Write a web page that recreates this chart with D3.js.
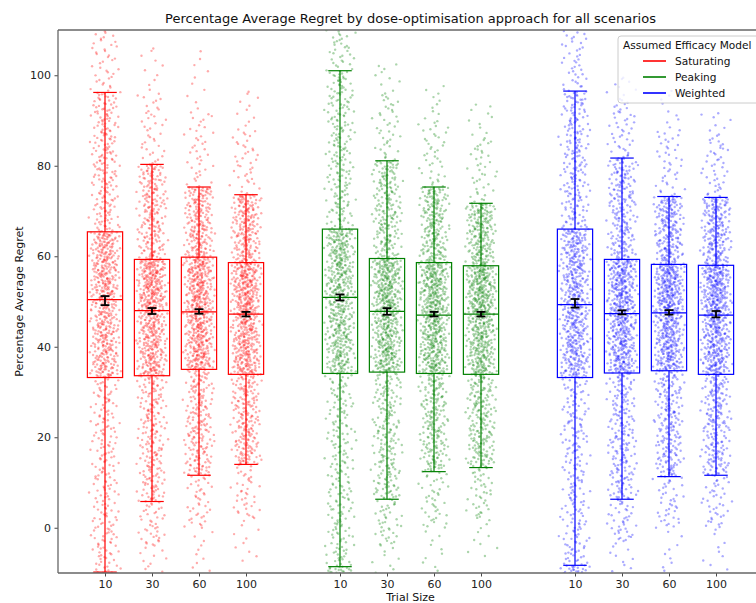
<!DOCTYPE html>
<html>
<head>
<meta charset="utf-8">
<script src="https://cdn.jsdelivr.net/npm/d3@7"></script>
<style>
  body { margin: 0; background: #fff; }
  text { font-family: "DejaVu Sans", sans-serif; }
</style>
</head>
<body>
<svg id="chart" width="756" height="603"></svg>
<script>
// ---------------- data ----------------
const models = ["Saturating", "Peaking", "Weighted"];
const modelColors = ["#ff0000", "#008000", "#0000ff"];
const trialSizes = ["10", "30", "60", "100"];
const yTicks = [0, 20, 40, 60, 80, 100];

// per box, ordered Saturating 10,30,60,100, Peaking 10..100, Weighted 10..100
const whiskerLow  = [-9.8, 5.8, 11.6, 14.0,   -8.6, 6.3, 12.4, 13.3,   -8.3, 6.3, 11.3, 11.6];
const q1Vals      = [33.2, 33.6, 35.0, 33.9,  34.1, 34.4, 34.1, 33.9,  33.2, 34.2, 34.7, 33.9];
const medianVals  = [50.4, 48.0, 47.7, 47.2,  50.9, 47.8, 47.0, 47.2,  49.3, 47.3, 47.5, 47.0];
const q3Vals      = [65.4, 59.3, 59.8, 58.6,  66.0, 59.5, 58.6, 57.9,  66.0, 59.3, 58.2, 58.0];
const whiskerHigh = [96.2, 80.3, 75.3, 73.6,  101.0, 81.1, 75.3, 71.7, 96.5, 81.7, 73.2, 73.0];
const meanVals    = [50.2, 47.9, 47.8, 47.2,  50.9, 47.8, 47.2, 47.2,  49.6, 47.6, 47.6, 47.2];
const meanCI      = [1.0, 0.66, 0.5, 0.5,     0.66, 0.73, 0.5, 0.5,    0.95, 0.45, 0.5, 0.7];
// visible extent of the scattered results beyond the whiskers
const tailMin     = [-20, -10, -10, -8,   -20, -12, -10, -7,   -20, -10, -10, -10];
const tailLow     = [-12, -4, 0, 2,       -12, -4, 0, 2,       -12, -3, 0, 0];
const tailHigh    = [110, 96, 92, 88,     112, 96, 90, 86,     110, 94, 88, 86];
const tailMax     = [125, 107, 106, 97,   125, 103, 98, 94,    125, 100, 97, 92];

// ---------------- layout ----------------
const svg = d3.select("#chart");
const mLeft = 58, mRight = 763, mTop = 30, mBottom = 573;
const x = d3.scaleLinear().domain([0, 15]).range([mLeft, mRight]);
const y = d3.scaleLinear().domain([-10, 110]).range([mBottom, mTop]);

const positions = [];
models.forEach((m, gi) => trialSizes.forEach((t, ti) => positions.push(1 + gi * 5 + ti)));
const boxColor = i => modelColors[Math.floor(i / 4)];

svg.append("defs").append("clipPath").attr("id", "plotclip")
  .append("rect").attr("x", mLeft).attr("y", mTop).attr("width", mRight - mLeft).attr("height", mBottom - mTop);

const plot = svg.append("g").attr("clip-path", "url(#plotclip)");

// ---- scattered points: rendered by walking each box's read quantile profile ----
// (a Halton sequence spreads the levels and horizontal offsets evenly)
function radical(k, base) {
  let f = 1, r = 0;
  while (k > 0) { f /= base; r += f * (k % base); k = Math.floor(k / base); }
  return r;
}
const N = 1000;
const qLevels = [0, 0.01, 0.05, 0.25, 0.5, 0.75, 0.95, 0.99, 1];
positions.forEach((p, i) => {
  const qv = [tailMin[i], tailLow[i], whiskerLow[i], q1Vals[i], medianVals[i], q3Vals[i], whiskerHigh[i], tailHigh[i], tailMax[i]];
  const qScale = d3.scaleLinear().domain(qLevels).range(qv);
  const pts = d3.range(N).map(k => {
    const kk = k + 1 + i * 1013;
    const u = radical(kk, 2);
    const a = radical(kk, 3), b = radical(kk, 5);
    return { v: qScale(Math.min(0.9995, Math.max(0.0005, u))), dx: ((a + b) / 2 - 0.5) * 0.72 };
  });
  plot.append("g").selectAll("circle").data(pts).join("circle")
    .attr("cx", d => x(p + d.dx))
    .attr("cy", d => y(d.v))
    .attr("r", 1.2)
    .attr("fill", boxColor(i))
    .attr("fill-opacity", 0.33);
});

// ---- boxes ----
const boxW = 0.75, capW = 0.5;
positions.forEach((p, i) => {
  const c = boxColor(i);
  const g = plot.append("g").attr("stroke", c).attr("stroke-width", 1.2).attr("fill", "none");
  g.append("rect")
    .attr("x", x(p - boxW / 2)).attr("width", x(p + boxW / 2) - x(p - boxW / 2))
    .attr("y", y(q3Vals[i])).attr("height", y(q1Vals[i]) - y(q3Vals[i]));
  g.append("line").attr("x1", x(p - boxW / 2)).attr("x2", x(p + boxW / 2))
    .attr("y1", y(medianVals[i])).attr("y2", y(medianVals[i]));
  g.append("line").attr("x1", x(p)).attr("x2", x(p)).attr("y1", y(q3Vals[i])).attr("y2", y(whiskerHigh[i]));
  g.append("line").attr("x1", x(p)).attr("x2", x(p)).attr("y1", y(q1Vals[i])).attr("y2", y(whiskerLow[i]));
  g.append("line").attr("x1", x(p - capW / 2)).attr("x2", x(p + capW / 2)).attr("y1", y(whiskerHigh[i])).attr("y2", y(whiskerHigh[i]));
  g.append("line").attr("x1", x(p - capW / 2)).attr("x2", x(p + capW / 2)).attr("y1", y(whiskerLow[i])).attr("y2", y(whiskerLow[i]));
});

// ---- mean +/- CI error bars ----
const ebCap = 0.19;
positions.forEach((p, i) => {
  const g = plot.append("g").attr("stroke", "#000").attr("stroke-width", 1.8);
  const lo = meanVals[i] - meanCI[i], hi = meanVals[i] + meanCI[i];
  g.append("line").attr("x1", x(p)).attr("x2", x(p)).attr("y1", y(lo)).attr("y2", y(hi));
  g.append("line").attr("x1", x(p - ebCap / 2)).attr("x2", x(p + ebCap / 2)).attr("y1", y(lo)).attr("y2", y(lo));
  g.append("line").attr("x1", x(p - ebCap / 2)).attr("x2", x(p + ebCap / 2)).attr("y1", y(hi)).attr("y2", y(hi));
});

// ---------------- axes ----------------
const yAxis = d3.axisLeft(y).tickValues(yTicks).tickSize(3.5).tickPadding(3.5);
const yg = svg.append("g").attr("transform", `translate(${mLeft},0)`).call(yAxis);
const xAxis = d3.axisBottom(x).tickValues(positions).tickFormat((d, i) => trialSizes[i % 4]).tickSize(3.5).tickPadding(3.5);
const xg = svg.append("g").attr("transform", `translate(0,${mBottom})`).call(xAxis);
[yg, xg].forEach(g => {
  g.select(".domain").remove();
  g.selectAll(".tick line").attr("stroke", "#333").attr("stroke-width", 0.9);
  g.selectAll(".tick text").attr("fill", "#222").style("font-size", "11px").style("font-family", "DejaVu Sans, sans-serif");
});

// spines
const spine = svg.append("g").attr("stroke", "#666").attr("stroke-width", 1.3).attr("fill", "none");
spine.append("line").attr("x1", mLeft).attr("x2", mLeft).attr("y1", mTop).attr("y2", mBottom);
spine.append("line").attr("x1", mLeft).attr("x2", mRight).attr("y1", mTop).attr("y2", mTop);
spine.append("line").attr("x1", mLeft).attr("x2", mRight).attr("y1", mBottom).attr("y2", mBottom);
spine.append("line").attr("x1", mRight).attr("x2", mRight).attr("y1", mTop).attr("y2", mBottom);

// titles
svg.append("text").attr("x", (mLeft + mRight) / 2).attr("y", 23).attr("text-anchor", "middle")
  .style("font-size", "13px").attr("fill", "#111")
  .text("Percentage Average Regret by dose-optimisation approach for all scenarios");
svg.append("text").attr("x", (mLeft + mRight) / 2).attr("y", 601).attr("text-anchor", "middle")
  .style("font-size", "11px").attr("fill", "#111").text("Trial Size");
svg.append("text").attr("transform", `translate(23,${(mTop + mBottom) / 2}) rotate(-90)`)
  .attr("text-anchor", "middle").style("font-size", "11px").attr("fill", "#111")
  .text("Percentage Average Regret");

// legend
const lg = svg.append("g").attr("transform", "translate(618,36)");
lg.append("rect").attr("x", 0).attr("y", 0).attr("width", 160).attr("height", 67).attr("rx", 3)
  .attr("fill", "#fff").attr("fill-opacity", 0.8).attr("stroke", "#ccc").attr("stroke-width", 1);
lg.append("text").attr("x", 5).attr("y", 13).style("font-size", "10.6px").attr("fill", "#111").text("Assumed Efficacy Model");
models.forEach((m, i) => {
  const yy = 25 + i * 16;
  lg.append("line").attr("x1", 25).attr("x2", 48).attr("y1", yy).attr("y2", yy)
    .attr("stroke", modelColors[i]).attr("stroke-width", 1.6);
  lg.append("text").attr("x", 57).attr("y", yy + 4).style("font-size", "10.6px").attr("fill", "#111").text(m);
});
</script>
</body>
</html>
